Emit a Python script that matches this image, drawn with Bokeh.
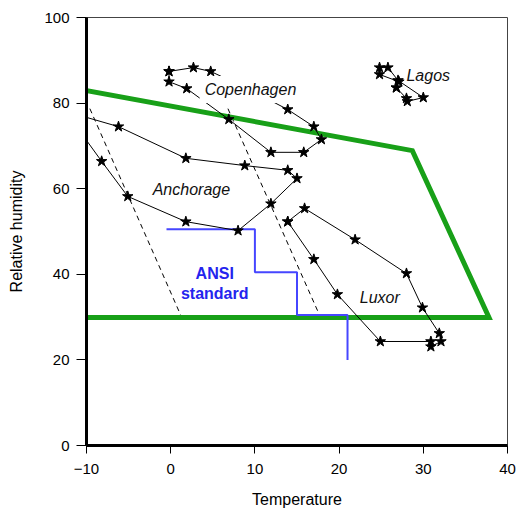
from bokeh.plotting import figure
from bokeh.models import Label, FixedTicker, Range1d
from bokeh.embed import file_html
from bokeh.resources import INLINE

# ---- data ----
cph_t = [-0.2, -0.2, 1.9, 6.9, 11.9, 15.8, 17.9, 17.0, 13.9, 9.3, 4.75, 2.7, -0.2]
cph_h = [87.4, 85.0, 83.4, 76.2, 68.5, 68.5, 71.5, 74.5, 78.5, 83.2, 87.4, 88.3, 87.4]

anc_t = [-11.0, -8.2, -5.1, 1.8, 8.0, 11.9, 15.0, 13.9, 8.8, 1.8, -6.2, -12.0, -11.0]
anc_h = [74.0, 66.4, 58.2, 52.3, 50.2, 56.5, 62.4, 64.3, 65.4, 67.1, 74.5, 77.8, 74.0]

lux_t = [13.9, 17.0, 19.8, 24.9, 30.9, 30.9, 32.1, 31.9, 29.9, 28.0, 21.9, 15.9, 13.9]
lux_h = [52.3, 43.5, 35.3, 24.3, 24.3, 23.1, 24.3, 26.2, 32.2, 40.2, 48.1, 55.4, 52.3]

lag_t = [26.8, 28.0, 28.1, 30.0, 27.0, 25.8, 24.8, 24.8, 27.1, 26.8]
lag_h = [83.6, 81.1, 80.4, 81.3, 85.3, 88.3, 88.3, 86.7, 85.0, 83.6]

dew1_t = [-9.6, 1.2]
dew1_h = [78.7, 30.4]
dew2_t = [6.8, 17.6]
dew2_h = [78.7, 30.8]

comfort_t = [-10.5, 28.7, 37.8, -10.5]
comfort_h = [83.1, 68.9, 29.9, 29.9]

ansi_t = [-0.5, 10.0, 10.0, 15.0, 15.0, 21.0, 21.0]
ansi_h = [50.5, 50.5, 40.5, 40.5, 30.5, 30.5, 20.0]

city_names = ["Copenhagen", "Anchorage", "Lagos", "Luxor"]
city_label_t = [3.44, -2.14, 28.0, 22.45]
city_label_h = [83.2, 59.8, 86.4, 34.6]

ansi_text = ["ANSI", "standard"]
ansi_text_t = [5.23, 5.23]
ansi_text_h = [40.2, 35.5]

x_ticks = [-10, 0, 10, 20, 30, 40]
y_ticks = [0, 20, 40, 60, 80, 100]

FONT = "Liberation Sans"

p = figure(width=518, height=514, output_backend="svg", toolbar_location=None,
           x_range=Range1d(-10, 40), y_range=Range1d(0, 100),
           min_border_left=86, min_border_right=11, min_border_top=17, min_border_bottom=69)
p.xgrid.visible = False
p.ygrid.visible = False
p.background_fill_color = "white"
p.border_fill_color = "white"
p.outline_line_color = "#444444"
p.outline_line_width = 1

for ax in (p.xaxis[0], p.yaxis[0]):
    ax.axis_line_width = 3
    ax.axis_line_color = "black"
    ax.major_tick_in = 0
    ax.minor_tick_line_color = None
    ax.major_tick_line_color = "black"
    ax.major_tick_line_width = 1
    ax.major_label_text_font = FONT
    ax.major_label_text_font_size = "15px"
    ax.major_label_text_color = "black"
    ax.axis_label_text_font = FONT
    ax.axis_label_text_font_size = "16px"
    ax.axis_label_text_font_style = "normal"
    ax.axis_label_text_color = "black"

p.xaxis.ticker = FixedTicker(ticks=x_ticks)
p.yaxis.ticker = FixedTicker(ticks=y_ticks)
p.xaxis.major_tick_out = 8
p.yaxis.major_tick_out = 10
p.xaxis.major_label_standoff = 10
p.yaxis.major_label_standoff = 7
p.xaxis.axis_label = "Temperature"
p.yaxis.axis_label = "Relative humidity"
p.xaxis.axis_label_standoff = 14
p.yaxis.axis_label_standoff = 16

# dew point dashed lines
p.line(dew1_t, dew1_h, line_color="black", line_width=1, line_dash="5 4")
p.line(dew2_t, dew2_h, line_color="black", line_width=1, line_dash="5 4")

# comfort zone (open on the left, where the axis is)
p.line(comfort_t, comfort_h, line_color="#18a018", line_width=5, line_join="miter")

# ANSI standard
p.line(ansi_t, ansi_h, line_color="#4646ff", line_width=2)

# city loops
for ts, hs in ((cph_t, cph_h), (anc_t, anc_h), (lux_t, lux_h), (lag_t, lag_h)):
    p.line(ts, hs, line_color="black", line_width=1)
    p.scatter(ts, hs, marker="star", size=11, fill_color="black", line_color="black")

for name, t, h in zip(city_names, city_label_t, city_label_h):
    lab = Label(x=t, y=h, text=name, text_font=FONT, text_font_size="16px",
                text_font_style="italic", text_align="left", text_baseline="middle",
                text_color="#111111")
    if name == "Copenhagen":
        lab.background_fill_color = "white"
        lab.padding = 5
    p.add_layout(lab)

for s, t, h in zip(ansi_text, ansi_text_t, ansi_text_h):
    p.add_layout(Label(x=t, y=h, text=s, text_font=FONT, text_font_size="16px",
                       text_font_style="bold", text_align="center", text_baseline="middle",
                       text_color="#2424ee"))

open("out.html", "w").write(file_html(p, INLINE))
